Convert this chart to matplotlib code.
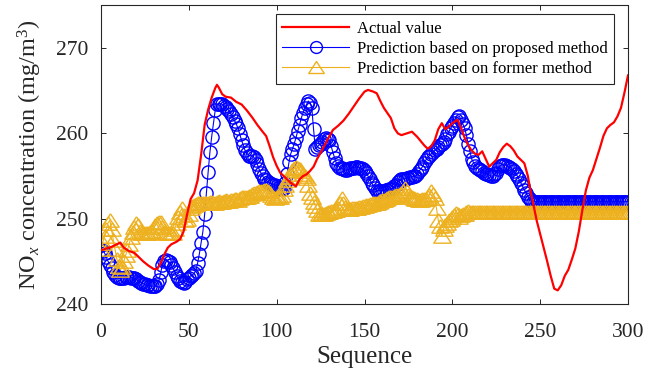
import numpy as np
import matplotlib
matplotlib.use("Agg")
import matplotlib.pyplot as plt

plt.rcParams["font.family"] = ["Liberation Serif", "DejaVu Serif"]
plt.rcParams["mathtext.fontset"] = "custom"
plt.rcParams["mathtext.rm"] = "Liberation Serif"
plt.rcParams["mathtext.it"] = "Liberation Serif:italic"

# Actual NOx concentration (line only)
seq_actual = [0, 3, 6, 9, 11, 13, 16, 19, 21, 24, 27, 30, 32, 34, 36, 38, 40, 43, 45, 47,
              49, 51, 53, 55, 57, 59, 61, 63, 65, 66, 67, 69, 71, 74, 77, 80, 83, 86, 89, 92,
              94, 96, 98, 100, 102, 105, 108, 111, 113, 115, 117, 119, 121, 123, 126, 129, 132,
              135, 138, 141, 144, 147, 150, 152, 155, 157, 159, 161, 163, 165, 167, 169, 171,
              174, 177, 180, 182, 184, 186, 188, 190, 192, 194, 196, 198, 200, 203, 205, 207,
              209, 211, 213, 215, 217, 219, 221, 223, 225, 227, 229, 231, 233, 235, 237, 239,
              241, 243, 244, 246, 248, 250, 252, 254, 256, 258, 260, 262, 264, 266, 268, 270,
              272, 274, 276, 278, 280, 282, 284, 286, 288, 290, 292, 294, 296, 298, 300]
actual = [246.3, 246.5, 246.7, 247.0, 247.2, 246.6, 246.2, 246.0, 245.6, 245.0, 244.5, 244.1,
          244.1, 244.8, 245.8, 246.6, 247.0, 247.3, 247.6, 248.5, 250.5, 252.3, 253.0, 254.5,
          257.5, 261.0, 262.8, 264.2, 265.3, 265.7, 265.4, 264.6, 264.3, 264.2, 263.7, 263.4,
          262.7, 261.9, 261.0, 260.2, 259.7, 258.5, 257.2, 256.2, 255.4, 254.8, 254.2, 253.8,
          254.6, 255.0, 255.2, 255.6, 256.1, 257.0, 258.1, 259.3, 260.4, 260.9, 261.5, 262.3,
          263.2, 264.1, 264.9, 265.1, 264.9, 264.7, 263.8, 263.0, 262.4, 261.8, 260.6, 260.0,
          259.8, 260.0, 260.2, 259.6, 259.1, 258.6, 258.2, 258.5, 259.2, 260.5, 261.2, 260.5,
          260.8, 261.2, 261.6, 260.6, 259.5, 258.6, 258.0, 257.6, 257.5, 257.9, 257.0, 256.1,
          256.5, 256.9, 257.8, 258.4, 258.8, 258.5, 258.0, 257.3, 256.9, 256.5, 255.0, 253.8,
          251.8, 249.8, 248.2, 246.6, 245.0, 243.3, 241.8, 241.6, 242.2, 243.3, 244.0, 245.2,
          246.5, 248.5, 251.0, 253.3, 254.8, 255.7, 257.0, 258.3, 259.7, 260.6, 261.0, 261.3,
          262.0, 263.0, 264.8, 266.8]

# Prediction from the proposed method, one value per sample 0..300
proposed = [
    246.3, 246.2, 246.0, 245.5, 245.0, 244.6, 244.2, 243.8, 243.4, 243.2,
    243.0, 243.0, 243.1, 243.1, 243.2, 243.2, 243.2, 243.1, 243.1, 243.0,
    242.9, 242.7, 242.6, 242.5, 242.4, 242.3, 242.2, 242.2, 242.1, 242.1,
    242.1, 242.1, 242.4, 242.8, 243.7, 244.6, 245.0, 245.2, 245.1, 244.9,
    244.6, 244.2, 243.8, 243.3, 243.0, 242.7, 242.6, 242.5, 242.6, 242.9,
    243.1, 243.3, 243.4, 243.6, 243.9, 244.8, 245.9, 247.2, 248.5, 250.5,
    253.0, 255.5, 257.8, 259.6, 261.2, 262.7, 263.4, 263.5, 263.5, 263.4,
    263.2, 263.1, 262.9, 262.6, 262.3, 261.9, 261.5, 261.1, 260.6, 259.9,
    259.2, 258.6, 258.0, 257.7, 257.4, 257.4, 257.4, 257.2, 256.9, 256.4,
    255.8, 255.4, 255.0, 254.7, 254.5, 254.3, 254.2, 254.1, 254.0, 253.9,
    253.8, 253.6, 253.5, 253.5, 253.6, 254.2, 255.3, 256.6, 257.6, 258.2,
    258.8, 259.5, 260.3, 261.0, 261.8, 262.4, 263.0, 263.4, 263.8, 263.6,
    263.0, 260.5, 258.2, 258.4, 258.6, 258.8, 259.0, 259.3, 259.5, 259.4,
    259.2, 258.5, 257.8, 257.1, 256.5, 256.2, 256.0, 255.9, 255.8, 255.7,
    255.7, 255.8, 255.9, 256.0, 256.0, 256.1, 256.1, 256.0, 255.9, 255.8,
    255.6, 255.4, 255.0, 254.6, 254.2, 253.9, 253.6, 253.3, 253.3, 253.3,
    253.3, 253.3, 253.4, 253.4, 253.5, 253.5, 253.6, 253.8, 254.0, 254.3,
    254.5, 254.6, 254.7, 254.7, 254.8, 254.8, 254.9, 254.9, 255.0, 255.0,
    255.3, 255.6, 255.8, 256.1, 256.5, 256.9, 257.2, 257.4, 257.6, 257.8,
    258.0, 258.2, 258.4, 258.6, 258.8, 259.0, 259.4, 259.9, 260.2, 260.6,
    260.9, 261.2, 261.6, 261.9, 262.0, 261.6, 261.1, 260.6, 259.8, 258.8,
    257.9, 257.0, 256.6, 256.2, 256.0, 255.8, 255.7, 255.6, 255.4, 255.3,
    255.2, 255.1, 255.0, 255.0, 255.2, 255.4, 255.8, 256.2, 256.3, 256.3,
    256.3, 256.2, 256.1, 256.0, 255.8, 255.6, 255.3, 255.0, 254.6, 254.2,
    253.8, 253.4, 253.0, 252.6, 252.3, 252.1, 252.0, 252.0, 252.0, 252.0,
    252.0, 252.0, 252.0, 252.0, 252.0, 252.0, 252.0, 252.0, 252.0, 252.0,
    252.0, 252.0, 252.0, 252.0, 252.0, 252.0, 252.0, 252.0, 252.0, 252.0,
    252.0, 252.0, 252.0, 252.0, 252.0, 252.0, 252.0, 252.0, 252.0, 252.0,
    252.0, 252.0, 252.0, 252.0, 252.0, 252.0, 252.0, 252.0, 252.0, 252.0,
    252.0, 252.0, 252.0, 252.0, 252.0, 252.0, 252.0, 252.0, 252.0, 252.0,
    252.0,
]

# Prediction from the former method, one value per sample 0..300
former = [
    246.5, 247.2, 248.0, 248.8, 249.5, 249.8, 248.8, 247.5, 246.4, 245.3,
    244.5, 244.0, 244.3, 245.0, 245.7, 246.3, 247.0, 247.8, 248.5, 249.0,
    249.5, 249.3, 248.6, 248.3, 248.3, 248.3, 248.3, 248.3, 248.4, 248.6,
    249.0, 249.3, 249.5, 249.6, 249.6, 249.0, 248.5, 248.3, 248.3, 248.3,
    248.3, 248.3, 248.8, 249.5, 250.2, 250.8, 251.2, 250.4, 249.8, 250.0,
    250.6, 251.2, 251.5, 251.6, 251.7, 251.8, 251.8, 251.8, 251.9, 251.8,
    251.8, 251.9, 252.0, 252.0, 251.9, 251.9, 252.0, 252.1, 252.0, 252.0,
    252.1, 252.2, 252.1, 252.1, 252.2, 252.2, 252.3, 252.3, 252.2, 252.4,
    252.5, 252.5, 252.6, 252.6, 252.7, 252.7, 252.9, 253.0, 253.0, 253.1,
    253.2, 253.3, 253.3, 253.4, 253.4, 253.2, 253.0, 252.8, 252.6, 252.4,
    252.5, 252.6, 252.6, 252.8, 253.5, 254.0, 254.5, 254.9, 255.3, 255.7,
    256.0, 256.1, 256.0, 255.8, 255.6, 255.3, 255.0, 254.8, 254.0, 253.0,
    252.5, 252.0, 251.5, 251.0, 250.5, 250.5, 250.6, 250.6, 250.7, 250.8,
    250.8, 250.9, 250.9, 251.0, 251.0, 251.3, 251.8, 252.4, 251.9, 251.4,
    251.2, 251.1, 251.1, 251.2, 251.2, 251.3, 251.3, 251.4, 251.4, 251.5,
    251.5, 251.6, 251.6, 251.7, 251.7, 251.8, 251.8, 251.9, 252.0, 252.1,
    252.2, 252.2, 252.3, 252.4, 252.5, 252.6, 252.6, 252.7, 252.8, 252.8,
    252.9, 253.0, 253.3, 253.6, 253.2, 252.8, 252.6, 252.5, 252.4, 252.3,
    252.3, 252.2, 252.2, 252.3, 252.3, 252.3, 252.5, 252.8, 253.3, 252.9,
    252.4, 251.2, 249.8, 249.2, 248.0, 248.8, 249.3, 249.5, 249.8, 250.0,
    250.2, 250.4, 250.7, 250.5, 250.2, 250.4, 250.5, 250.6, 250.8, 250.9,
    250.8, 250.8, 250.8, 250.8, 250.8, 250.8, 250.8, 250.8, 250.8, 250.8,
    250.8, 250.8, 250.8, 250.8, 250.8, 250.8, 250.8, 250.8, 250.8, 250.8,
    250.8, 250.8, 250.8, 250.8, 250.8, 250.8, 250.8, 250.8, 250.8, 250.8,
    250.8, 250.8, 250.8, 250.8, 250.8, 250.8, 250.8, 250.8, 250.8, 250.8,
    250.8, 250.8, 250.8, 250.8, 250.8, 250.8, 250.8, 250.8, 250.8, 250.8,
    250.8, 250.8, 250.8, 250.8, 250.8, 250.8, 250.8, 250.8, 250.8, 250.8,
    250.8, 250.8, 250.8, 250.8, 250.8, 250.8, 250.8, 250.8, 250.8, 250.8,
    250.8, 250.8, 250.8, 250.8, 250.8, 250.8, 250.8, 250.8, 250.8, 250.8,
    250.8, 250.8, 250.8, 250.8, 250.8, 250.8, 250.8, 250.8, 250.8, 250.8,
    250.8,
]

seq = np.arange(len(proposed))

x_ticks = [0, 50, 100, 150, 200, 250, 300]
y_ticks = [240, 250, 260, 270]

RED = "#FF0000"
BLUE = "#0000FF"
GOLD = "#EDB120"

W, H = 646, 376
fig = plt.figure(figsize=(W / 100, H / 100), dpi=100)
ax = fig.add_axes([101 / W, 1 - 304 / H, 527 / W, 298.5 / H])

wide_triangle = [(0, 1), (-1.3, -1), (1.3, -1), (0, 1)]

ax.plot(seq_actual, actual, color=RED, lw=1.6, label="Actual value", zorder=3)
ax.plot(seq, proposed, color=BLUE, lw=0.8, marker="o", ms=9.5, mfc="none",
        mec=BLUE, mew=1.0, label="Prediction based on proposed method", zorder=2)
ax.plot(seq, former, color=GOLD, lw=0.8, marker=wide_triangle, ms=12.5, mfc="none",
        mec=GOLD, mew=1.0, label="Prediction based on former method", zorder=2)

ax.set_xlim(0, 300)
ax.set_ylim(240, 275)
ax.set_xticks(x_ticks)
ax.set_yticks(y_ticks)
ax.tick_params(direction="in", length=3.5, width=0.7, top=True, right=True,
               labelsize=15.5, colors="#262626")
ax.tick_params(axis="x", pad=13.5)
ax.tick_params(axis="y", pad=9)
for sp in ax.spines.values():
    sp.set_linewidth(0.8)
    sp.set_color("#262626")

ax.set_xlabel("Sequence", fontsize=18, labelpad=3, color="#262626")
ax.set_ylabel(r"NO$_x$ concentration (mg/m$^3$)", fontsize=17.5, labelpad=9, color="#262626")

leg = ax.legend(loc="upper right", bbox_to_anchor=(0.9734, 0.972), borderaxespad=0,
                fontsize=12, frameon=True, fancybox=False, framealpha=1,
                edgecolor="#262626", handlelength=4.0, handletextpad=0.45,
                labelspacing=0.25, borderpad=0.4, numpoints=1, markerscale=0.9)
leg.get_frame().set_linewidth(0.8)

fig.savefig("out.png", dpi=100)
